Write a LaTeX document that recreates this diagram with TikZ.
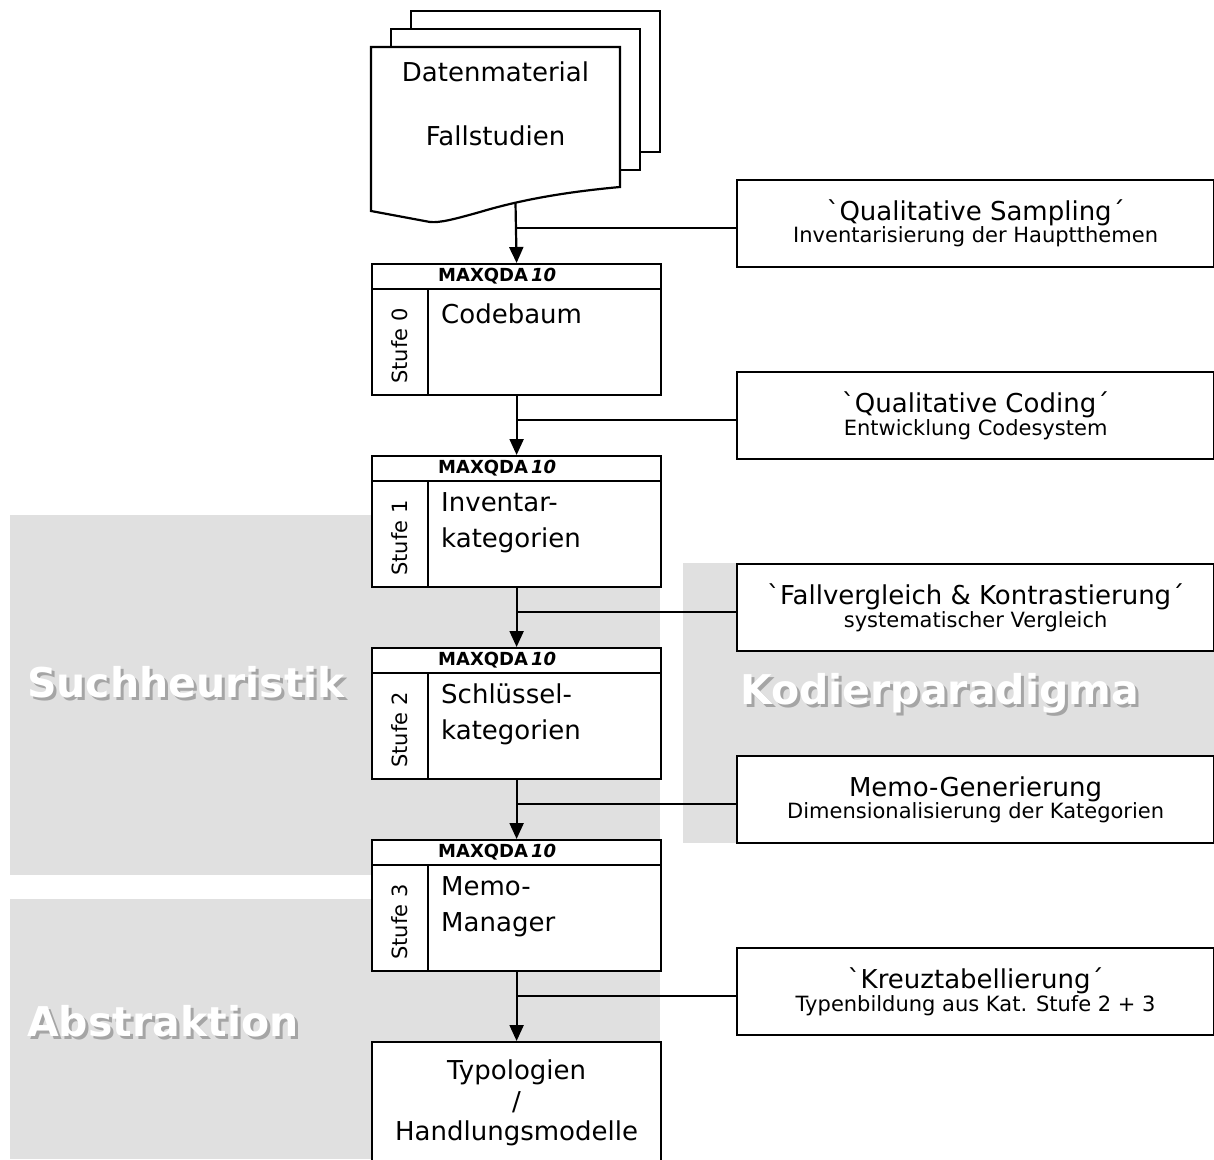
\documentclass[tikz,border=0pt]{standalone}
\usepackage{fontspec}
\setmainfont{DejaVu Sans}
\newfontfamily\plainglyphs{DejaVu Sans}[Ligatures=TeXOff]
\usetikzlibrary{arrows.meta}
\definecolor{panelgray}{RGB}{224,224,224}
\definecolor{shadowgray}{RGB}{165,165,165}

\tikzset{
  frame/.style={draw=black, line width=2.2pt, fill=white},
  conn/.style={draw=black, line width=2.2pt},
  arr/.style={conn, -{Triangle[width=14pt,length=16pt]}},
  stagecard/.style={frame, inner sep=0pt, minimum width=289pt, minimum height=131pt, anchor=north west},
  sidecard/.style={frame, inner sep=0pt, minimum width=477pt, minimum height=87pt, align=center, anchor=north west},
  bodytxt/.style={font=\fontsize{26}{36}\selectfont, align=left, inner sep=0pt, anchor=north west},
  leveltxt/.style={font=\fontsize{21}{21}\selectfont, inner sep=0pt, rotate=90},
  hdrtxt/.style={font=\fontsize{18}{18}\selectfont\bfseries, inner sep=0pt, anchor=west},
  doctxt/.style={font=\fontsize{26}{26}\selectfont, inner sep=0pt},
  bigword/.style={font=\fontsize{41}{41}\selectfont\bfseries, inner sep=0pt, anchor=base west},
}

% grave accent as printed, without TeX quote ligatures
\newcommand\Grave{{\plainglyphs\symbol{96}}}

% one MAXQDA stage card: #1 name, #2 top edge, #3 level, #4 body text offset, #5 body text
\newcommand\StageCard[5]{%
  \node[stagecard] (#1) at (371,#2) {};
  \draw[conn] ([yshift=-26pt]#1.north west) -- ([yshift=-26pt]#1.north east);
  \draw[conn] ([xshift=57pt,yshift=-26pt]#1.north west) -- ([xshift=57pt]#1.south west);
  \node[hdrtxt] (#1h) at ([xshift=67pt,yshift=-13pt]#1.north west) {MAXQDA\,\textit{10}};
  \node[leveltxt] (#1l) at ([xshift=28.5pt,yshift=-83pt]#1.north west) {Stufe #3};
  \node[bodytxt] (#1t) at ([xshift=70pt,yshift=-#4pt]#1.north west) {#5};
}

% white lettering with a grey drop shadow: #1 name, #2 x, #3 baseline y, #4 text
\newcommand\PanelWord[4]{%
  \node[bigword, text=shadowgray] (#1s) at ({#2+3},{#3+3}) {#4};
  \node[bigword, text=white] (#1) at (#2,#3) {#4};
}

\newcommand\SideText[2]{{\fontsize{26}{30}\selectfont #1}\\{\fontsize{21}{31}\selectfont #2}}

\begin{document}
\begin{tikzpicture}[x=1pt,y=-1pt]
\useasboundingbox (0,0) rectangle (1214,1159);
\clip (0,0) rectangle (1214,1159);
\fill[white] (0,0) rectangle (1214,1159);

% background panels
\fill[panelgray] (10,515) rectangle (660,875);
\fill[panelgray] (10,899) rectangle (660,1159);
\fill[panelgray] (683,563) rectangle (1214,843);

\PanelWord{wsuch}{27}{697}{Suchheuristik}
\PanelWord{wkod}{740}{704}{Kodierparadigma}
\PanelWord{wabs}{27}{1036}{Abstraktion}

% stacked documents
\draw[frame] (411,11) rectangle (660,152);
\draw[frame] (391,29) rectangle (640,170);
\draw[frame] (371,47) -- (620,47) -- (620,187)
  .. controls (565,192) and (520,200) .. (480,212)
  .. controls (455,219) and (440,223) .. (430,222) -- (371,211) -- cycle;
\node[doctxt] (dt1) at (495.5,72) {Datenmaterial};
\node[doctxt] (dt2) at (495.5,136) {Fallstudien};
\coordinate (docout) at (515.5,203);

% stage cards
\StageCard{s0}{263}{0}{41}{Codebaum}
\StageCard{s1}{455}{1}{37}{Inventar-\\kategorien}
\StageCard{s2}{647}{2}{37}{Schlüssel-\\kategorien}
\StageCard{s3}{839}{3}{37}{Memo-\\Manager}

\node[frame, inner sep=0pt, minimum width=289pt, minimum height=122pt, anchor=north west,
      align=center, font=\fontsize{26}{30.5}\selectfont] (typ) at (371,1041)
      {Typologien\\/\\Handlungsmodelle};

% method cards on the right
\node[sidecard] (q0) at (736,179) {\SideText{\Grave Qualitative Sampling´}{Inventarisierung der Hauptthemen}};
\node[sidecard] (q1) at (736,371) {\SideText{\Grave Qualitative Coding´}{Entwicklung Codesystem}};
\node[sidecard] (q2) at (736,563) {\SideText{\Grave Fallvergleich \& Kontrastierung´}{systematischer Vergleich}};
\node[sidecard] (q3) at (736,755) {\SideText{Memo-Generierung}{Dimensionalisierung der Kategorien}};
\node[sidecard] (q4) at (736,947) {\SideText{\Grave Kreuztabellierung´}{Typenbildung aus Kat. Stufe 2 + 3}};

% main flow
\draw[arr] (docout) -- (s0.north);
\draw[arr] (s0.south) -- (s1.north);
\draw[arr] (s1.south) -- (s2.north);
\draw[arr] (s2.south) -- (s3.north);
\draw[arr] (s3.south) -- (typ.north);

% branches to the method cards
\foreach \q/\s in {q0/s0,q1/s1,q2/s2,q3/s3,q4/typ}{
  \coordinate (j\q) at ([yshift=-4pt]\q.west);
  \draw[conn] (j\q) -- (j\q -| \s.north);
}
\end{tikzpicture}
\end{document}
